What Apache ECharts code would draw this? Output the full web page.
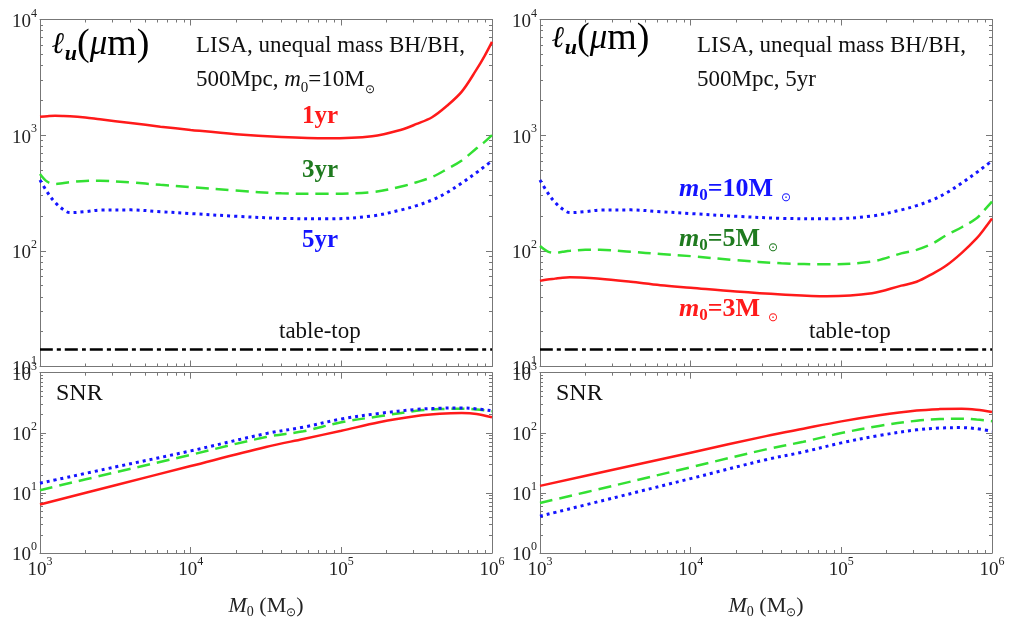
<!DOCTYPE html>
<html>
<head>
<meta charset="utf-8">
<script src="https://cdn.jsdelivr.net/npm/echarts@6/dist/echarts.min.js"></script>
<style>
  html, body { margin: 0; padding: 0; background: #fff; }
  #chart { width: 1009px; height: 620px; }
</style>
</head>
<body>
<div id="chart"></div>
<script>
// masses M0 (solar masses)
const massTop = [1000, 1120, 1260, 1410, 1580, 2000, 2500, 4000, 6300, 10000, 20000, 40000, 80000,
  160000, 250000, 316000, 400000, 500000, 630000, 790000, 890000, 1000000]
const massBottom = [1000, 3160, 10000, 31600, 56000, 100000, 178000, 316000, 450000, 630000, 790000, 1000000]

// l_u (um), left panel: m0 = 10 Msun, observation time 1/3/5 yr
const lu1yr = [1445, 1460, 1470, 1468, 1460, 1420, 1370, 1275, 1185, 1110, 1019, 965, 940,
  980, 1115, 1250, 1430, 1785, 2380, 3700, 4800, 6400]
const lu3yr = [462, 395, 378, 384, 392, 402, 403, 390, 372, 356, 332, 314, 311,
  322, 360, 392, 435, 507, 605, 770, 870, 1000]
const lu5yr = [410, 320, 262, 230, 214, 218, 225, 226, 218, 210, 199, 191, 189,
  200, 226, 246, 275, 318, 385, 475, 535, 600]

// l_u (um), right panel: 5 yr, m0 = 10 / 5 / 3 Msun
const luM10 = lu5yr
const luM5 = [110, 99, 96, 98, 100, 102, 102, 98, 94, 90, 83, 78, 76.5,
  81, 95, 102, 115, 137, 160, 191, 225, 266]
const luM3 = [55, 56.5, 57.5, 58.5, 59, 58.5, 57.5, 54, 50.5, 48, 44.5, 42, 40.5,
  43, 50, 54, 63, 75, 96, 128, 155, 190]

const tableTop = 14

// SNR
const snr1yr = [6.4, 13.4, 28, 58, 79, 108, 150, 190, 207, 213, 206, 181]
const snr3yr = [11.1, 22, 43, 85, 106, 150, 188, 232, 248, 252, 245, 228]
const snr5yr = [14.5, 27, 50, 97, 124, 170, 210, 245, 256, 259, 250, 233]
const snrM3 = [13.1, 24.7, 46.7, 88, 117, 155, 196, 235, 248, 252, 242, 222]
const snrM5 = [6.8, 13.4, 26.7, 53, 71, 99, 130, 159, 169, 172, 166, 156]
const snrM10 = [4.1, 8.4, 17.3, 35.7, 48, 68, 90, 112, 120, 122, 117, 106]

const serif = "'Liberation Serif', 'Times New Roman', serif"
const RED = '#ff1a1a'
const GREEN = '#33e033'
const DKGREEN = '#1f7a1f'
const BLUE = '#1414ff'

function pairs(xs, ys) {
  return xs.map((x, i) => [x, ys[i]])
}

const frame = { color: '#777', width: 1 }
const powRich = {
  b: { fontFamily: serif, fontSize: 19, color: '#222', lineHeight: 24, verticalAlign: 'bottom' },
  e: { fontFamily: serif, fontSize: 12, color: '#222', lineHeight: 12, verticalAlign: 'top' }
}
function powLabel(v) {
  return '{b|10}{e|' + Math.round(Math.log10(v)) + '}'
}

function makeX(grid, labels) {
  const base = {
    type: 'log', logBase: 10, gridIndex: grid, min: 1e3, max: 1e6,
    axisLine: { show: true, lineStyle: frame },
    axisTick: { inside: true, length: 6, lineStyle: frame },
    minorTick: { show: true, splitNumber: 9, length: 3, lineStyle: frame },
    splitLine: { show: false }
  }
  const bottom = Object.assign({}, base, {
    position: 'bottom',
    axisLabel: labels ? { show: true, formatter: powLabel, rich: powRich, margin: 3 } : { show: false }
  })
  if (labels) {
    bottom.name = '{i|M}{s|0}{n| (M}{o|⊙}{n|)}'
    bottom.nameLocation = 'middle'
    bottom.nameGap = 40
    bottom.nameTextStyle = {
      rich: {
        i: { fontFamily: serif, fontStyle: 'italic', fontSize: 22, color: '#222', lineHeight: 26 },
        n: { fontFamily: serif, fontSize: 22, color: '#222', lineHeight: 26 },
        s: { fontFamily: serif, fontSize: 14, color: '#222', lineHeight: 12, verticalAlign: 'bottom' },
        o: { fontFamily: serif, fontSize: 12, color: '#222', lineHeight: 12, verticalAlign: 'bottom' }
      }
    }
  }
  const top = Object.assign({}, base, { position: 'top', axisLabel: { show: false } })
  return [bottom, top]
}

function makeY(grid, min, max) {
  const base = {
    type: 'log', logBase: 10, gridIndex: grid, min: min, max: max,
    axisLine: { show: true, lineStyle: frame },
    axisTick: { inside: true, length: 6, lineStyle: frame },
    minorTick: { show: true, splitNumber: 9, length: 3, lineStyle: frame },
    splitLine: { show: false }
  }
  const left = Object.assign({}, base, {
    position: 'left',
    axisLabel: { show: true, formatter: powLabel, rich: powRich, margin: 3 }
  })
  const right = Object.assign({}, base, { position: 'right', axisLabel: { show: false } })
  return [left, right]
}

function curve(grid, xs, ys, kind) {
  const styles = {
    solid: { color: RED, width: 2.5, type: 'solid' },
    dashed: { color: GREEN, width: 2.5, type: [13, 7] },
    dotted: { color: BLUE, width: 3, type: [3, 4] },
    dashdot: { color: '#000', width: 2.5, type: [13, 4, 4, 4] }
  }
  return {
    type: 'line',
    xAxisIndex: grid * 2,
    yAxisIndex: grid * 2,
    data: pairs(xs, ys),
    smooth: 0.35,
    showSymbol: false,
    lineStyle: styles[kind],
    silent: true
  }
}

const chart = echarts.init(document.getElementById('chart'))

// graphic text uses zrender styles: fill instead of color
const luRich = {
  l: { fontFamily: "'DejaVu Serif', serif", fontStyle: 'italic', fontWeight: 'bold', fontSize: 30, fill: '#000', lineHeight: 40 },
  u: { fontFamily: serif, fontStyle: 'italic', fontWeight: 'bold', fontSize: 22, fill: '#000', lineHeight: 16, verticalAlign: 'bottom' },
  p: { fontFamily: serif, fontSize: 38, fill: '#000', lineHeight: 40 },
  m: { fontFamily: serif, fontStyle: 'italic', fontSize: 35, fill: '#000', lineHeight: 40 }
}
const luText = '{l|ℓ}{u|u}{p|(}{m|μ}{p|m)}'

function infoRich() {
  return {
    t: { fontFamily: serif, fontSize: 23, fill: '#111', lineHeight: 32 },
    i: { fontFamily: serif, fontStyle: 'italic', fontSize: 23, fill: '#111', lineHeight: 32 },
    s: { fontFamily: serif, fontSize: 15, fill: '#111', lineHeight: 14, verticalAlign: 'bottom' },
    o: { fontFamily: serif, fontSize: 12, fill: '#111', lineHeight: 14, verticalAlign: 'bottom' }
  }
}

function massRich(color) {
  return {
    i: { fontFamily: serif, fontStyle: 'italic', fontWeight: 'bold', fontSize: 26, fill: color, lineHeight: 30 },
    t: { fontFamily: serif, fontWeight: 'bold', fontSize: 26, fill: color, lineHeight: 30 },
    s: { fontFamily: serif, fontWeight: 'bold', fontSize: 17, fill: color, lineHeight: 14, verticalAlign: 'bottom' },
    o: { fontFamily: serif, fontSize: 12, fill: color, lineHeight: 14, verticalAlign: 'bottom', padding: [0, 0, 0, 8] }
  }
}

function txt(left, top, text, rich) {
  return { type: 'text', left: left, top: top, z: 100, style: { text: text, rich: rich } }
}
function plain(left, top, text, size, color, bold) {
  return {
    type: 'text', left: left, top: top, z: 100,
    style: { text: text, fontFamily: serif, fontSize: size, fill: color, fontWeight: bold ? 'bold' : 'normal' }
  }
}

const option = {
  animation: false,
  backgroundColor: '#fff',
  grid: [
    { left: 40, top: 19.5, width: 452, height: 347 },
    { left: 40, top: 372.7, width: 452, height: 181.6 },
    { left: 540, top: 19.5, width: 452, height: 347 },
    { left: 540, top: 372.7, width: 452, height: 181.6 }
  ],
  xAxis: [].concat(makeX(0, false), makeX(1, true), makeX(2, false), makeX(3, true)),
  yAxis: [].concat(makeY(0, 10, 1e4), makeY(1, 1, 1e3), makeY(2, 10, 1e4), makeY(3, 1, 1e3)),
  series: [
    curve(0, massTop, lu1yr, 'solid'),
    curve(0, massTop, lu3yr, 'dashed'),
    curve(0, massTop, lu5yr, 'dotted'),
    curve(0, [1e3, 1e6], [tableTop, tableTop], 'dashdot'),
    curve(1, massBottom, snr1yr, 'solid'),
    curve(1, massBottom, snr3yr, 'dashed'),
    curve(1, massBottom, snr5yr, 'dotted'),
    curve(2, massTop, luM3, 'solid'),
    curve(2, massTop, luM5, 'dashed'),
    curve(2, massTop, luM10, 'dotted'),
    curve(2, [1e3, 1e6], [tableTop, tableTop], 'dashdot'),
    curve(3, massBottom, snrM3, 'solid'),
    curve(3, massBottom, snrM5, 'dashed'),
    curve(3, massBottom, snrM10, 'dotted')
  ],
  graphic: [
    txt(52, 26, luText, luRich),
    txt(552, 20, luText, luRich),
    txt(196, 34, '{t|LISA, unequal mass BH/BH,}', infoRich()),
    txt(196, 68, '{t|500Mpc, }{i|m}{s|0}{t|=10M}{o|⊙}', infoRich()),
    txt(697, 34, '{t|LISA, unequal mass BH/BH,}', infoRich()),
    txt(697, 68, '{t|500Mpc, 5yr}', infoRich()),
    plain(302, 104, '1yr', 25, RED, true),
    plain(302, 158, '3yr', 25, DKGREEN, true),
    plain(302, 228, '5yr', 25, BLUE, true),
    plain(279, 320, 'table-top', 23, '#111', false),
    plain(809, 320, 'table-top', 23, '#111', false),
    txt(679, 176, '{i|m}{s|0}{t|=10M}{o|⊙}', massRich(BLUE)),
    txt(679, 226, '{i|m}{s|0}{t|=5M}{o|⊙}', massRich(DKGREEN)),
    txt(679, 296, '{i|m}{s|0}{t|=3M}{o|⊙}', massRich(RED)),
    plain(56, 382, 'SNR', 24, '#111', false),
    plain(556, 382, 'SNR', 24, '#111', false)
  ]
}

chart.setOption(option)
window.addEventListener('resize', function() {
  chart.resize()
})
</script>
</body>
</html>
